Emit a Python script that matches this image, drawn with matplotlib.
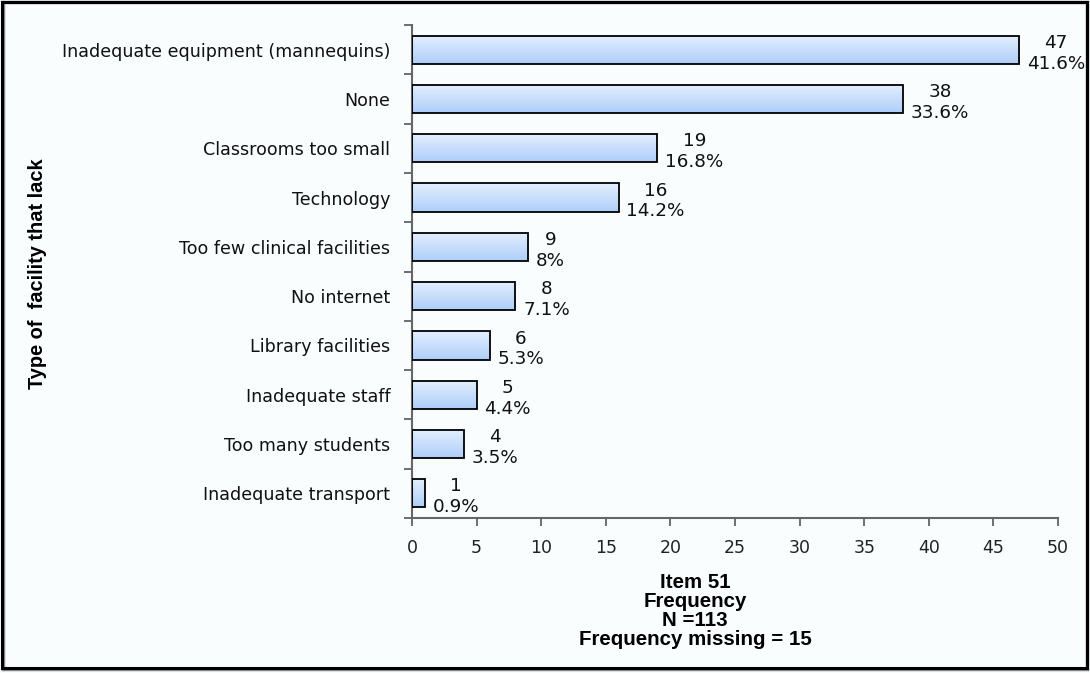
import matplotlib
matplotlib.use("Agg")
import matplotlib.pyplot as plt
import numpy as np
from matplotlib.patches import Rectangle

categories = ["Inadequate equipment (mannequins)", "None", "Classrooms too small",
              "Technology", "Too few clinical facilities", "No internet",
              "Library facilities", "Inadequate staff", "Too many students",
              "Inadequate transport"]
counts = [47, 38, 19, 16, 9, 8, 6, 5, 4, 1]
percents = ["41.6%", "33.6%", "16.8%", "14.2%", "8%", "7.1%", "5.3%", "4.4%", "3.5%", "0.9%"]
xticks = [0, 5, 10, 15, 20, 25, 30, 35, 40, 45, 50]

W, H = 1090, 673
fig = plt.figure(figsize=(W / 100, H / 100), dpi=100)
fig.patch.set_facecolor("#F9FDFD")

ax = fig.add_axes([412 / W, 1 - 518 / H, (1058 - 412) / W, (518 - 25) / H])
ax.set_facecolor("none")

n = len(categories)
ypos = np.arange(n)
bar_h = 0.57

grad = np.linspace(0, 1, 64).reshape(-1, 1)
c_top = np.array([0xE4, 0xEF, 0xFD]) / 255
c_bot = np.array([0xAE, 0xCE, 0xFB]) / 255
img = c_top[None, None, :] * (1 - grad[:, :, None]) + c_bot[None, None, :] * grad[:, :, None]

bars = ax.barh(ypos, counts, height=bar_h, color="none", edgecolor="black", linewidth=1.3, zorder=3)
for b in bars:
    x0, y0 = b.get_x(), b.get_y()
    w, h = b.get_width(), b.get_height()
    ax.imshow(img, extent=[x0, x0 + w, y0 + h, y0], aspect="auto", zorder=2, interpolation="bilinear")

for y, c, p in zip(ypos, counts, percents):
    ax.text(c + 0.6, y + 0.07, f"{c}\n{p}", ha="left", va="center",
            fontsize=13.2, family="DejaVu Sans", color="#111111", linespacing=1.2,
            multialignment="center")

ax.set_xlim(0, 50)
ax.set_ylim(n - 0.5, -0.5)
ax.set_xticks(xticks)
ax.set_xticklabels([str(t) for t in xticks], fontsize=12.5, family="DejaVu Sans", color="#222222")
ax.set_yticks(ypos)
ax.set_yticklabels(categories, fontsize=12.6, family="DejaVu Sans", color="#111111")
ax.tick_params(axis="y", length=0, pad=15.5)
ax.set_yticks(np.arange(n + 1) - 0.5, minor=True)
ax.tick_params(axis="y", which="minor", length=6, color="#555555", width=1.2)
ax.tick_params(axis="x", length=6, color="#555555", width=1.2, pad=9)

for s in ["top", "right"]:
    ax.spines[s].set_visible(False)
for s in ["left", "bottom"]:
    ax.spines[s].set_color("#666666")
    ax.spines[s].set_linewidth(1.5)

fig.text(38 / W, 1 - 274 / H, "Type of  facility that lack", rotation=90, ha="center", va="center",
         fontsize=14.4, fontweight="bold", family="Liberation Sans")

fig.text(695 / W, 1 - 611 / H, "Item 51\nFrequency\nN =113\nFrequency missing = 15",
         ha="center", va="center", fontsize=14.8, fontweight="bold", family="Liberation Sans",
         linespacing=1.0)

fig.patches.append(Rectangle((3 / W, 4 / H), (W - 6) / W, (H - 6) / H, transform=fig.transFigure,
                             fill=False, edgecolor="#888888", linewidth=2.5, zorder=0))
fig.patches.append(Rectangle((1.5 / W, 5 / H), (W - 5) / W, (H - 6.5) / H, transform=fig.transFigure,
                             fill=False, edgecolor="black", linewidth=2.2, zorder=1))

fig.savefig("out.png", dpi=100, facecolor=fig.get_facecolor())
